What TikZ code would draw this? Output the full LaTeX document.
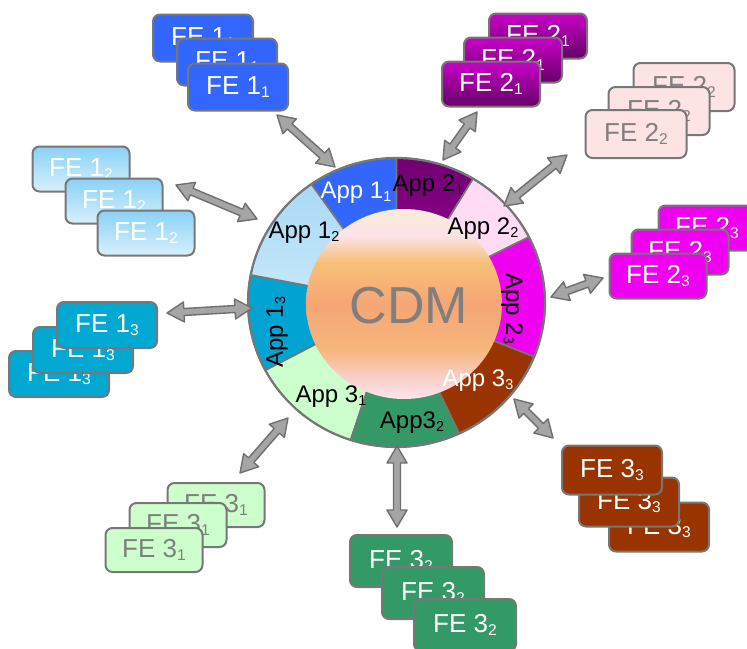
\documentclass[tikz,border=0pt]{standalone}
\usepackage{fontspec}
\usepackage{graphicx}
\setmainfont{Liberation Sans}
\usetikzlibrary{calc}
\definecolor{c11}{HTML}{3366FF}
\definecolor{c12t}{HTML}{A9D9F6}
\definecolor{c12b}{HTML}{C8E8FA}
\definecolor{c13}{HTML}{00A3D1}
\definecolor{c31}{HTML}{CCFFCC}
\definecolor{c32}{HTML}{339966}
\definecolor{c33}{HTML}{993300}
\definecolor{c23}{HTML}{F000F0}
\definecolor{c22}{HTML}{FFDCF4}
\definecolor{c21t}{HTML}{730073}
\definecolor{c21b}{HTML}{9A009A}
\definecolor{bgray}{HTML}{777777}
\definecolor{arrfill}{HTML}{A5A5A5}
\definecolor{arrdraw}{HTML}{6F6F6F}
\definecolor{txtgray}{HTML}{7F7F7F}
\definecolor{b22}{HTML}{FDE3E3}
\definecolor{b12t}{HTML}{8AD1F6}
\definecolor{b12b}{HTML}{D8F0FC}
\definecolor{b21t}{HTML}{CA00CA}
\definecolor{b21b}{HTML}{650065}
\definecolor{b13}{HTML}{00A8D2}
\definecolor{cB}{HTML}{FCE4EE}
\definecolor{cP1}{HTML}{F9CDC6}
\definecolor{cO1}{HTML}{F7B67C}
\definecolor{cO2}{HTML}{F5A674}
\definecolor{cO3}{HTML}{F8C07A}
\definecolor{cP2}{HTML}{FBE3E8}
\definecolor{cT}{HTML}{FBEBD8}
\pgfdeclareverticalshading{cdmshade}{100bp}{color(0bp)=(cB); color(25bp)=(cB); color(31bp)=(cP1); color(38bp)=(cO1); color(50bp)=(cO2); color(61bp)=(cO3); color(68bp)=(cP2); color(75bp)=(cT); color(100bp)=(cT)}
\newcommand\sbs[1]{\raisebox{-0.1em}{\scalebox{0.6}{#1}}}
\newcommand\dblarr[2]{%
  \path let \p1=(#1),\p2=(#2),\n1={atan2(\y2-\y1,\x2-\x1)},\n2={veclen(\x2-\x1,\y2-\y1)} in
    \pgfextra{\xdef\DAang{\n1}\xdef\DAlen{\n2}\xdef\DAx{\x1}\xdef\DAy{\y1}};
  \begin{scope}[shift={(\DAx,\DAy)},rotate=\DAang]
    \draw[arr] (0pt,0pt) -- (17pt,10pt) -- (17pt,3.5pt) -- (\DAlen-17pt,3.5pt) -- (\DAlen-17pt,10pt)
      -- (\DAlen,0pt) -- (\DAlen-17pt,-10pt) -- (\DAlen-17pt,-3.5pt) -- (17pt,-3.5pt) -- (17pt,-10pt) -- cycle;
  \end{scope}}
\tikzset{
  fe/.style={draw=bgray, line width=2pt, rounded corners=7pt, minimum width=100pt, minimum height=47pt,
    font=\fontsize{26}{26}\selectfont, inner sep=0pt},
  fe11/.style={fe, fill=c11, text=white},
  fe21/.style={fe, top color=b21t, bottom color=b21b, text=white, minimum width=98pt, minimum height=45pt},
  fe22/.style={fe, fill=b22, text=txtgray, minimum width=101pt, minimum height=48pt},
  fe23/.style={fe, fill=c23, text=white, minimum width=97pt, minimum height=45pt},
  fe12/.style={fe, top color=b12t, bottom color=b12b, text=white, minimum width=97pt, minimum height=45pt},
  fe13/.style={fe, fill=b13, text=white, minimum width=100pt, minimum height=46pt},
  fe31/.style={fe, fill=c31, text=txtgray, minimum width=97pt, minimum height=44pt},
  fe32/.style={fe, fill=c32, text=white, minimum width=102pt, minimum height=52pt},
  fe33/.style={fe, fill=c33, text=white, minimum width=100pt, minimum height=49pt},
  applbl/.style={font=\fontsize{24}{24}\selectfont, inner sep=0pt},
  arr/.style={draw=arrdraw, fill=arrfill, line width=1.4pt, line join=round},
  seg/.style={draw=bgray, line width=1.6pt},
}
\begin{document}
\begin{tikzpicture}[x=1pt,y=-1pt]
\useasboundingbox (0,0) rectangle (747,648);
\coordinate (C) at (396.5,302.5);
\coordinate (IC) at (404,304);
% ring segments
\foreach \a/\b/\c in {90/125/c11, 169/208/c13, 208/252/c31, 252/295/c32, 295/338/c33, 338/387/c23, 387/419/c22}{
  \filldraw[seg, fill=\c] (C) -- ($(C)+(\a:148.5pt and 144.5pt)$) arc[start angle=\a, end angle=\b, x radius=148.5pt, y radius=144.5pt] -- cycle;
}
\shadedraw[seg, top color=c21t, bottom color=c21b] (C) -- ($(C)+(59:148.5pt and 144.5pt)$) arc[start angle=59, end angle=90, x radius=148.5pt, y radius=144.5pt] -- cycle;
\shadedraw[seg, top color=c12t, bottom color=c12b] (C) -- ($(C)+(125:148.5pt and 144.5pt)$) arc[start angle=125, end angle=169, x radius=148.5pt, y radius=144.5pt] -- cycle;
\draw[seg, line width=2.2pt] (C) ellipse[x radius=148.5pt, y radius=144.5pt];
\shade[shading=cdmshade] (IC) ellipse[x radius=98pt, y radius=95pt];
\node[font=\fontsize{52}{52}\selectfont, text=txtgray, inner sep=0pt] (cdm) at (409,306) {CDM};
% app labels
\node[applbl, text=white] (l11) at (356,193) {App 1\sbs{1}};
\node[applbl] (l21) at (428,186) {App 2\sbs{1}};
\node[applbl] (l22) at (483,229) {App 2\sbs{2}};
\node[applbl, rotate=-90] (l23) at (512,309) {App 2\sbs{3}};
\node[applbl, text=white] (l33) at (478,381) {App 3\sbs{3}};
\node[applbl] (l32) at (412,423) {App3\sbs{2}};
\node[applbl] (l31) at (331,397) {App 3\sbs{1}};
\node[applbl, rotate=90] (l13) at (277,332) {App 1\sbs{3}};
\node[applbl] (l12) at (304,233) {App 1\sbs{2}};
% stacks
\node[fe11] (f11c) at (203,38) {FE 1\sbs{1}};
\node[fe11] (f11b) at (227,62) {FE 1\sbs{1}};
\node[fe11] (f11a) at (238,87) {FE 1\sbs{1}};
\node[fe21] (f21c) at (538,36) {FE 2\sbs{1}};
\node[fe21] (f21b) at (513,60) {FE 2\sbs{1}};
\node[fe21] (f21a) at (491,84) {FE 2\sbs{1}};
\node[fe22] (f22c) at (684,87) {FE 2\sbs{2}};
\node[fe22] (f22b) at (659,111) {FE 2\sbs{2}};
\node[fe22] (f22a) at (636,134) {FE 2\sbs{2}};
\node[fe23] (f23c) at (707,228) {FE 2\sbs{3}};
\node[fe23] (f23b) at (680,252) {FE 2\sbs{3}};
\node[fe23] (f23a) at (658,276) {FE 2\sbs{3}};
\node[fe12] (f12c) at (81,169) {FE 1\sbs{2}};
\node[fe12] (f12b) at (114,201) {FE 1\sbs{2}};
\node[fe12] (f12a) at (146,233) {FE 1\sbs{2}};
\node[fe13] (f13c) at (59,374) {FE 1\sbs{3}};
\node[fe13] (f13b) at (83,350) {FE 1\sbs{3}};
\node[fe13] (f13a) at (107,325) {FE 1\sbs{3}};
\node[fe31] (f31c) at (216,505) {FE 3\sbs{1}};
\node[fe31] (f31b) at (178,525) {FE 3\sbs{1}};
\node[fe31] (f31a) at (154,550) {FE 3\sbs{1}};
\node[fe32] (f32c) at (401,561) {FE 3\sbs{2}};
\node[fe32] (f32b) at (433,593) {FE 3\sbs{2}};
\node[fe32] (f32a) at (465,625) {FE 3\sbs{2}};
\node[fe33] (f33c) at (659,527) {FE 3\sbs{3}};
\node[fe33] (f33b) at (629,502) {FE 3\sbs{3}};
\node[fe33] (f33a) at (612,470) {FE 3\sbs{3}};
% arrows
\coordinate (a11s) at (277,115); \coordinate (a11e) at (335,167);
\coordinate (a21s) at (477,112); \coordinate (a21e) at (443,160);
\coordinate (a22s) at (567,155); \coordinate (a22e) at (504,206);
\coordinate (a12s) at (176,185); \coordinate (a12e) at (257,219);
\coordinate (a23s) at (603,278); \coordinate (a23e) at (551,297);
\coordinate (a13s) at (167,313); \coordinate (a13e) at (252,308);
\coordinate (a33s) at (514,399); \coordinate (a33e) at (553,438);
\coordinate (a31s) at (288,418); \coordinate (a31e) at (240,473);
\coordinate (a32s) at (397,446); \coordinate (a32e) at (397,527);
\dblarr{a11s}{a11e}
\dblarr{a21s}{a21e}
\dblarr{a22s}{a22e}
\dblarr{a12s}{a12e}
\dblarr{a23s}{a23e}
\dblarr{a13s}{a13e}
\dblarr{a33s}{a33e}
\dblarr{a31s}{a31e}
\dblarr{a32s}{a32e}
\end{tikzpicture}
\end{document}
